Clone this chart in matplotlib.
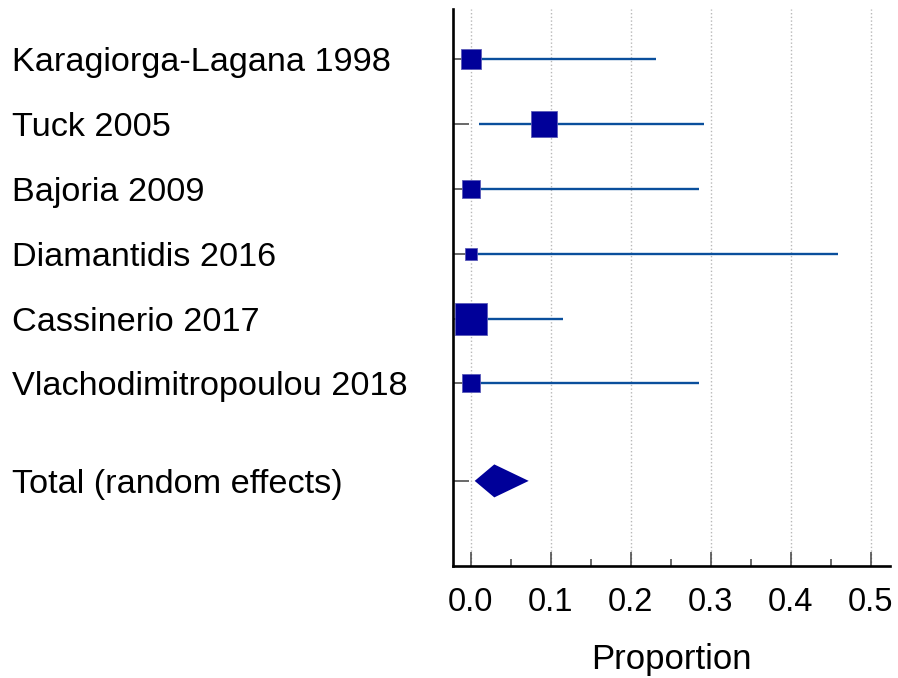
import numpy as np
import matplotlib
matplotlib.use("Agg")
import matplotlib.pyplot as plt

plt.rcParams['font.family'] = ['Liberation Sans', 'DejaVu Sans']

# forest plot data (proportion, 95% CI, weight %)
studies = ["Karagiorga-Lagana 1998", "Tuck 2005", "Bajoria 2009",
           "Diamantidis 2016", "Cassinerio 2017", "Vlachodimitropoulou 2018"]
prop = [0.0, 0.091, 0.0, 0.0, 0.0, 0.0]
ci_low = [0.0, 0.011, 0.0, 0.0, 0.0, 0.0]
ci_high = [0.231, 0.291, 0.285, 0.459, 0.115, 0.285]
weights = [14.3, 23.8, 11.7, 5.0, 33.5, 11.7]

total_label = "Total (random effects)"
total_prop = 0.0295
total_low = 0.005
total_high = 0.0725

xticks = [0.0, 0.1, 0.2, 0.3, 0.4, 0.5]

sq_color = '#000099'
ci_color = '#0a4f9c'
dpi = 100

fig = plt.figure(figsize=(8.98, 6.78), dpi=dpi)
ax = fig.add_axes([0.5041, 0.1652, 0.9911 - 0.5041, 0.9867 - 0.1652])

ypos = np.arange(len(studies))
y_total = len(studies) + 0.5

# CI lines then squares
for i in range(len(studies)):
    ax.plot([ci_low[i], ci_high[i]], [ypos[i], ypos[i]], color=ci_color,
            lw=1.7, solid_capstyle='butt', zorder=3)
    side_px = 5.47 * np.sqrt(weights[i])
    ax.plot(prop[i], ypos[i], marker='s', ms=side_px * 72 / dpi,
            color=sq_color, mec='#5a5ab8', mew=0.6, zorder=4, clip_on=False)

# pooled diamond
h = 0.254
ax.fill([total_low, total_prop, total_high, total_prop],
        [y_total, y_total - h, y_total, y_total + h],
        color=sq_color, lw=0, zorder=4)

ax.set_xlim(-0.0225, 0.524)
ax.set_ylim(7.81, -0.765)

ax.set_xticks(xticks)
ax.set_xticklabels([f"{t:.1f}" for t in xticks])
ax.set_xticks([0.05, 0.15, 0.25, 0.35, 0.45], minor=True)
ax.set_yticks(list(ypos) + [y_total])
ax.set_yticklabels(studies + [total_label])

ax.tick_params(axis='x', which='major', direction='in', length=10, width=1.1,
               color='#404040', labelsize=23.5, pad=15)
ax.tick_params(axis='x', which='minor', direction='in', length=5, width=1.1,
               color='#404040')
ax.tick_params(axis='y', direction='in', length=11.5, width=1.1,
               color='#404040', labelsize=24.7, pad=0)
for lab in ax.get_yticklabels():
    lab.set_horizontalalignment('left')
    lab.set_x(-0.504 / (0.9911 - 0.5041) + 12 / 898 / (0.9911 - 0.5041))

ax.grid(axis='x', which='major', linestyle=':', color='#b8b8b8', lw=1.0)
ax.set_axisbelow(True)

for s in ['top', 'right']:
    ax.spines[s].set_visible(False)
for s in ['left', 'bottom']:
    ax.spines[s].set_linewidth(1.9)
    ax.spines[s].set_color('black')

ax.set_xlabel("Proportion", fontsize=25, labelpad=18)

fig.savefig("out.png", dpi=dpi)
